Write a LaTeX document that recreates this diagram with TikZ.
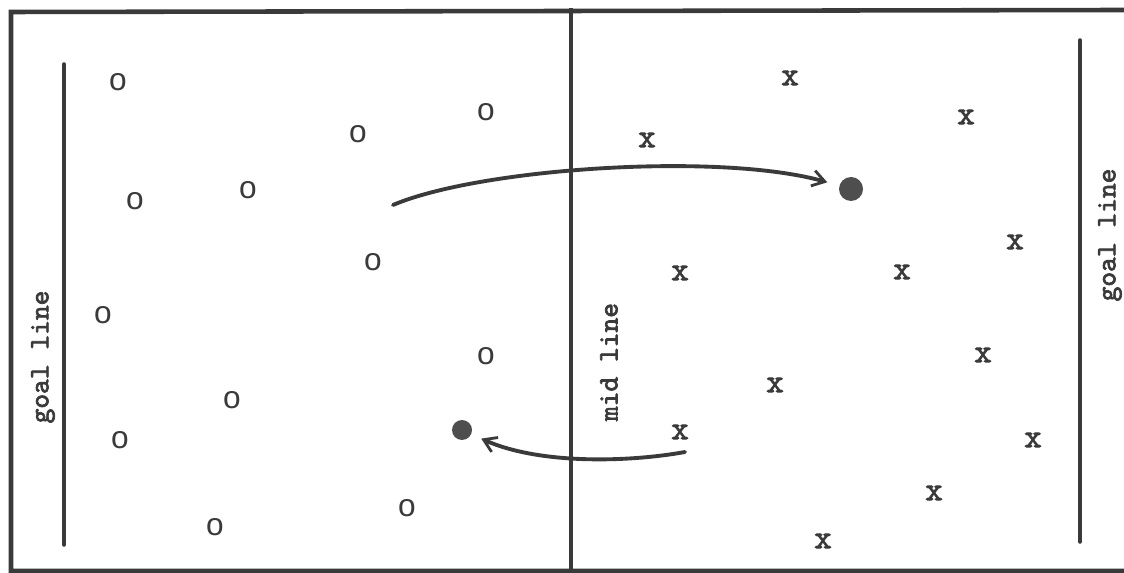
\documentclass[tikz,border=0pt]{standalone}
\usepackage{fontspec}
\setsansfont{Liberation Sans}
\newfontfamily\slabtt[FakeBold=2.5]{lmmono10-regular.otf}
\usepackage{tikz}
\usetikzlibrary{arrows.meta,positioning,calc}
\usepackage{xcolor}
\definecolor{fdInk}{HTML}{3A3A3A}
\definecolor{fdBall}{HTML}{4E4E4E}
\tikzset{
  bnd/.style={draw=fdInk, line width=2.6pt},
  gln/.style={draw=fdInk, line width=2pt, line cap=round},
  ply/.style={inner sep=0pt, text=fdInk, font=\sffamily\fontsize{18}{18}\selectfont},
  opp/.style={inner sep=0pt, text=fdInk, font=\slabtt\fontsize{19}{19}\selectfont},
  lbl/.style={inner sep=0pt, rotate=90, text=fdInk, font=\slabtt\fontsize{16}{16}\selectfont},
  ballc/.style={circle, fill=fdBall, inner sep=0pt, minimum size=#1},
  arr/.style={-{Straight Barb[length=7pt, width=9pt, line width=1.6pt]}, draw=fdInk, line width=2.2pt, line cap=round},
}

\begin{document}
\begin{tikzpicture}[x=0.02cm, y=-0.02cm]
  \useasboundingbox (0,0) rectangle (1124,573);
  % field
  \draw[bnd] (1124,10) -- (11,12) -- (11,571) -- (1124,571);
  \draw[bnd] (571,8) -- (571,571);
  \draw[gln] (64,64) -- (64,545);
  \draw[gln] (1080,40) -- (1080,542);
  \node[lbl] (gl1) at (43,357) {goal line};
  \node[lbl] (gl2) at (1110,235) {goal line};
  \node[lbl] (ml) at (609,362) {mid line};
  % team o
  \node[ply] (o1) at (118,82) {o};
  \node[ply] (o2) at (486,112) {o};
  \node[ply] (o3) at (358,134) {o};
  \node[ply] (o4) at (135,201) {o};
  \node[ply] (o5) at (248,190) {o};
  \node[ply] (o6) at (373,262) {o};
  \node[ply] (o7) at (103,315) {o};
  \node[ply] (o8) at (486,356) {o};
  \node[ply] (o9) at (232,400) {o};
  \node[ply] (o10) at (120,440) {o};
  \node[ply] (o11) at (215,527) {o};
  \node[ply] (o12) at (407,508) {o};
  % team x
  \node[opp] (x1) at (790,78) {x};
  \node[opp] (x2) at (966,117) {x};
  \node[opp] (x3) at (647,140) {x};
  \node[opp] (x4) at (1015,242) {x};
  \node[opp] (x5) at (680,273) {x};
  \node[opp] (x6) at (902,272) {x};
  \node[opp] (x7) at (983,355) {x};
  \node[opp] (x8) at (775,385) {x};
  \node[opp] (x9) at (680,432) {x};
  \node[opp] (x10) at (1033,440) {x};
  \node[opp] (x11) at (934,493) {x};
  \node[opp] (x12) at (823,541) {x};
  % balls and passes
  \node[ballc=0.48cm] (b1) at (851,189) {};
  \node[ballc=0.4cm] (b2) at (462,430) {};
  \coordinate (p1) at (393,205);
  \coordinate (p2) at (685,452);
  \draw[arr, shorten >=14pt] (p1) .. controls (480,168) and (720,152) .. (b1.center);
  \draw[arr, shorten >=12pt] (p2) .. controls (630,462) and (540,465) .. (b2.center);
\end{tikzpicture}
\end{document}
